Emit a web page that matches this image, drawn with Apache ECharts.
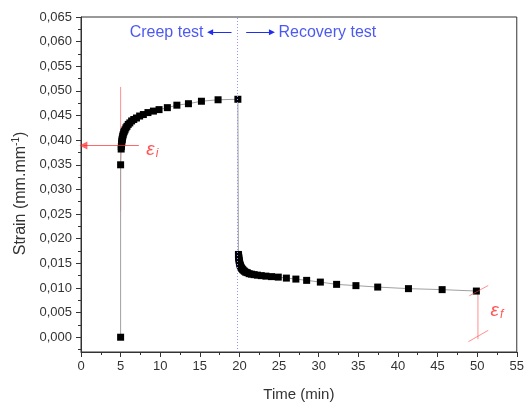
<!DOCTYPE html>
<html><head><meta charset="utf-8">
<script src="https://cdn.jsdelivr.net/npm/echarts@6/dist/echarts.min.js"></script>
<style>html,body{margin:0;padding:0;background:#fff}#c{width:527px;height:407px}</style>
</head><body><div id="c"></div>
<script>
// Creep phase (load applied at t = 5 min)
const creepTime = [5.00, 5.00, 5.07, 5.09, 5.11, 5.13, 5.16, 5.19, 5.22, 5.27, 5.32, 5.39, 5.46, 5.56, 5.67, 5.80, 5.96, 6.16, 6.39, 6.66, 7.00, 7.40, 7.87, 8.45, 9.14, 9.85, 10.90, 12.10, 13.56, 15.20, 17.30, 19.80];
const creepStrain = [0.0000, 0.0350, 0.0382, 0.0387, 0.0391, 0.0394, 0.0398, 0.0401, 0.0404, 0.0408, 0.0411, 0.0415, 0.0418, 0.0421, 0.0425, 0.0428, 0.0432, 0.0435, 0.0439, 0.0442, 0.0445, 0.0449, 0.0452, 0.0456, 0.0459, 0.0462, 0.0466, 0.0471, 0.0474, 0.0479, 0.0482, 0.0483];
// Recovery phase
const recoveryTime = [19.87, 19.89, 19.91, 19.93, 19.96, 19.99, 20.03, 20.07, 20.13, 20.20, 20.27, 20.37, 20.48, 20.62, 20.79, 20.98, 21.22, 21.51, 21.85, 22.26, 22.75, 23.34, 24.05, 24.90, 25.92, 27.12, 28.48, 30.21, 32.26, 34.70, 37.45, 41.33, 45.58, 49.90];
const recoveryStrain = [0.0168, 0.0165, 0.0162, 0.0159, 0.0156, 0.0153, 0.0150, 0.0147, 0.0145, 0.0142, 0.0140, 0.0138, 0.0136, 0.0134, 0.0132, 0.0131, 0.0129, 0.0128, 0.0127, 0.0126, 0.0125, 0.0124, 0.0123, 0.0122, 0.0120, 0.0118, 0.01154, 0.01119, 0.01073, 0.01047, 0.01018, 0.00986, 0.00966, 0.00937];
// Axis ticks
const yMajorTicks = [0, 0.005, 0.010, 0.015, 0.020, 0.025, 0.030, 0.035, 0.040, 0.045, 0.050, 0.055, 0.060, 0.065];
const yMinorTicks = [-0.0025, 0.0025, 0.0075, 0.0125, 0.0175, 0.0225, 0.0275, 0.0325, 0.0375, 0.0425, 0.0475, 0.0525, 0.0575, 0.0625];
const phaseBoundary = 19.72;
const phaseLabels = ['Creep test', 'Recovery test'];

const data = [];
creepTime.forEach((t, i) => data.push([t, creepStrain[i]]));
recoveryTime.forEach((t, i) => data.push([t, recoveryStrain[i]]));

const fmt = v => v.toFixed(3).replace('.', ',');
const AX = '#333';
const RED_LINE = 'rgba(255,70,70,0.6)';
const RED = '#ff2a2a';
const BLUE = '#1f2fee';
const FONT = 'Liberation Sans, Arial, sans-serif';

const chart = echarts.init(document.getElementById('c'), null, {renderer: 'canvas'});
chart.setOption({
  animation: false,
  backgroundColor: '#fff',
  textStyle: {fontFamily: FONT},
  grid: {left: 81, right: 1, top: 17, bottom: 53.5, show: true, borderColor: AX, borderWidth: 1, backgroundColor: 'transparent'},
  xAxis: {
    type: 'value', min: 0, max: 55, interval: 5,
    name: 'Time (min)', nameLocation: 'middle', nameGap: 35,
    nameTextStyle: {fontSize: 15, color: AX, fontFamily: FONT},
    axisLine: {onZero: false, lineStyle: {color: AX, width: 1}},
    axisTick: {inside: false, length: 5, lineStyle: {color: AX}},
    minorTick: {show: true, splitNumber: 2, length: 3, lineStyle: {color: AX}},
    axisLabel: {fontSize: 13, color: AX, margin: 8, showMaxLabel: true, showMinLabel: true, fontFamily: FONT},
    splitLine: {show: false}, minorSplitLine: {show: false}
  },
  yAxis: [{
    type: 'value', min: -0.003, max: 0.065,
    name: '{a|Strain (mm.mm}{b|-1}{a|)}{p| }', nameLocation: 'middle', nameGap: 48, nameRotate: 90,
    nameTextStyle: {color: AX, rich: {
      a: {fontSize: 16, color: AX, fontFamily: FONT},
      b: {fontSize: 10, color: AX, fontFamily: FONT, padding: [0, 0, 9, 0]},
      p: {fontSize: 16, width: 18}
    }},
    axisLine: {onZero: false, lineStyle: {color: AX, width: 1}},
    axisTick: {inside: false, length: 5, lineStyle: {color: AX}, customValues: yMajorTicks},
    axisLabel: {fontSize: 13, color: AX, margin: 9, formatter: fmt, customValues: yMajorTicks, fontFamily: FONT},
    splitLine: {show: false}
  }, {
    type: 'value', min: -0.003, max: 0.065, position: 'left',
    axisLine: {show: false},
    axisTick: {inside: false, length: 3, lineStyle: {color: AX}, customValues: yMinorTicks},
    axisLabel: {show: false},
    splitLine: {show: false}
  }],
  series: [
    {
      type: 'line', z: 1, data: [[5, 0.0255], [5, 0.0508]], symbol: 'none', silent: true,
      lineStyle: {color: RED_LINE, width: 1},
      markLine: {
        silent: true, animation: false, label: {show: false},
        symbol: ['none', 'triangle'], symbolSize: 8,
        lineStyle: {color: RED, width: 1, type: 'solid', opacity: 0.7},
        data: [[{coord: [7.3, 0.0389]}, {coord: [0.3, 0.0389]}]]
      }
    },
    {
      type: 'line', z: 1, data: [[50.1, -0.0004], [50.1, 0.0093]], symbol: 'none', silent: true,
      lineStyle: {color: RED_LINE, width: 1},
      markLine: {
        silent: true, animation: false, label: {show: false}, symbol: 'none',
        lineStyle: {color: RED_LINE, width: 1, type: 'solid'},
        data: [
          [{coord: [49.0, 0.0084]}, {coord: [51.4, 0.0105]}],
          [{coord: [48.9, -0.0009]}, {coord: [51.4, 0.0014]}]
        ]
      }
    },
    {
      type: 'line', z: 3, data: data, symbol: 'rect', symbolSize: 7,
      itemStyle: {color: '#000'}, lineStyle: {color: '#a0a0a0', width: 1},
      markLine: {
        silent: true, animation: false, label: {show: false}, symbol: 'none',
        lineStyle: {color: '#8f96ff', width: 1, type: [1, 2]},
        data: [{xAxis: phaseBoundary}]
      }
    },
    {
      type: 'line', z: 2, data: [], symbol: 'none',
      markLine: {
        silent: true, animation: false, label: {show: false},
        symbol: ['none', 'triangle'], symbolSize: 6,
        lineStyle: {color: BLUE, width: 1, type: 'solid'},
        data: [
          [{coord: [19.0, 0.0619]}, {coord: [16.3, 0.0619]}],
          [{coord: [20.85, 0.0619]}, {coord: [24.1, 0.0619]}]
        ]
      }
    },
    {
      type: 'scatter', z: 4, symbolSize: 0, silent: true,
      label: {show: true, position: 'inside', color: BLUE, fontSize: 16, fontFamily: FONT},
      data: [
        {value: [10.8, 0.0619], label: {formatter: phaseLabels[0]}},
        {value: [31.1, 0.0619], label: {formatter: phaseLabels[1]}}
      ]
    },
    {
      type: 'scatter', z: 4, symbolSize: 0, silent: true,
      label: {show: true, position: 'inside', color: RED,
        rich: {e: {fontSize: 19, fontStyle: 'italic', color: RED, fontFamily: FONT}, s: {fontSize: 12, fontStyle: 'italic', color: RED, fontFamily: FONT, padding: [8, 0, 0, 1]}}},
      data: [
        {value: [9.0, 0.0381], label: {formatter: '{e|ε}{s|i}'}},
        {value: [52.5, 0.0053], label: {formatter: '{e|ε}{s|f}'}}
      ]
    }
  ]
});
</script></body></html>
